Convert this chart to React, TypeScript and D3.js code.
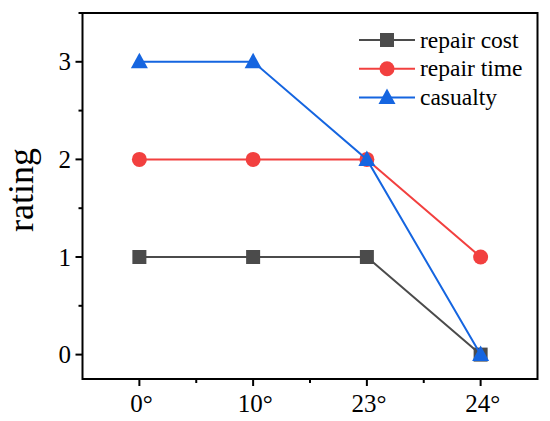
import React from "react";
import * as d3 from "d3";

const categories = ["0°", "10°", "23°", "24°"];
const repairCost = [1, 1, 1, 0];
const repairTime = [2, 2, 2, 1];
const casualty = [3, 3, 2, 0];
const yTicks = [0, 1, 2, 3];
const seriesNames = ["repair cost", "repair time", "casualty"];

const W = 550, H = 421;
const M = { left: 82.5, right: 537.5, top: 13, bottom: 379 };
const FONT = "Liberation Serif, DejaVu Serif, serif";
const tStyle = { fontFamily: FONT };

export default function App() {
  const x = d3.scaleLinear().domain([-0.5, 3.5]).range([M.left, M.right]);
  const y = d3.scaleLinear().domain([-0.25, 3.5]).range([M.bottom, M.top]);
  const line = d3.line<number>().x((_, i) => x(i)).y((d) => y(d));
  const series = [
    { name: seriesNames[0], values: repairCost, color: "#4b4b4b", shape: "square" },
    { name: seriesNames[1], values: repairTime, color: "#f2403f", shape: "circle" },
    { name: seriesNames[2], values: casualty, color: "#1565e0", shape: "triangle" },
  ];
  const marker = (shape: string, cx: number, cy: number, color: string, key: any) => {
    if (shape === "square") return <rect key={key} x={cx - 7} y={cy - 7} width={14} height={14} fill={color} />;
    if (shape === "circle") return <circle key={key} cx={cx} cy={cy} r={7.5} fill={color} />;
    return <path key={key} d={`M${cx},${cy - 9}L${cx + 8.5},${cy + 6.5}L${cx - 8.5},${cy + 6.5}Z`} fill={color} />;
  };
  const minorY = d3.range(-0, 3.51, 0.5).filter((v) => !yTicks.includes(v));
  const minorX = [0.5, 1.5, 2.5];
  return (
    <svg width={W} height={H} style={{ display: "block", position: "absolute", left: 0, top: 0, background: "#fff" }}>
      <rect x={0} y={0} width={W} height={H} fill="#fff" />
      {series.map((s) => (
        <g key={s.name}>
          <path d={line(s.values) || ""} fill="none" stroke={s.color} strokeWidth={2} />
          {s.values.map((v, i) => marker(s.shape, x(i), y(v), s.color, i))}
        </g>
      ))}
      <rect x={M.left} y={M.top} width={M.right - M.left} height={M.bottom - M.top} fill="none" stroke="#000" strokeWidth={2} />
      {yTicks.map((t) => (
        <g key={t}>
          <line x1={M.left - 7} x2={M.left} y1={y(t)} y2={y(t)} stroke="#000" strokeWidth={2} />
          <text x={71} y={y(t)} dy="0.34em" textAnchor="end" fontSize={25} style={tStyle}>{t}</text>
        </g>
      ))}
      {minorY.map((t) => (
        <line key={t} x1={M.left - 4} x2={M.left} y1={y(t)} y2={y(t)} stroke="#000" strokeWidth={2} />
      ))}
      {categories.map((c, i) => (
        <g key={c}>
          <line x1={x(i)} x2={x(i)} y1={M.bottom} y2={M.bottom + 7} stroke="#000" strokeWidth={2} />
          <text x={x(i) + 2} y={412} textAnchor="middle" fontSize={25} style={tStyle}>{c}</text>
        </g>
      ))}
      {minorX.map((t) => (
        <line key={t} x1={x(t)} x2={x(t)} y1={M.bottom} y2={M.bottom + 4} stroke="#000" strokeWidth={2} />
      ))}
      <text transform="translate(33,190) rotate(-90)" textAnchor="middle" fontSize={36} style={tStyle}>rating</text>
      {series.map((s, i) => {
        const ly = 40 + i * 28.7;
        return (
          <g key={s.name}>
            <line x1={359} x2={415} y1={ly} y2={ly} stroke={s.color} strokeWidth={2} />
            {marker(s.shape, 387, ly, s.color, "m")}
            <text x={420} y={ly} dy="0.32em" fontSize={23.5} style={tStyle}>{s.name}</text>
          </g>
        );
      })}
    </svg>
  );
}
